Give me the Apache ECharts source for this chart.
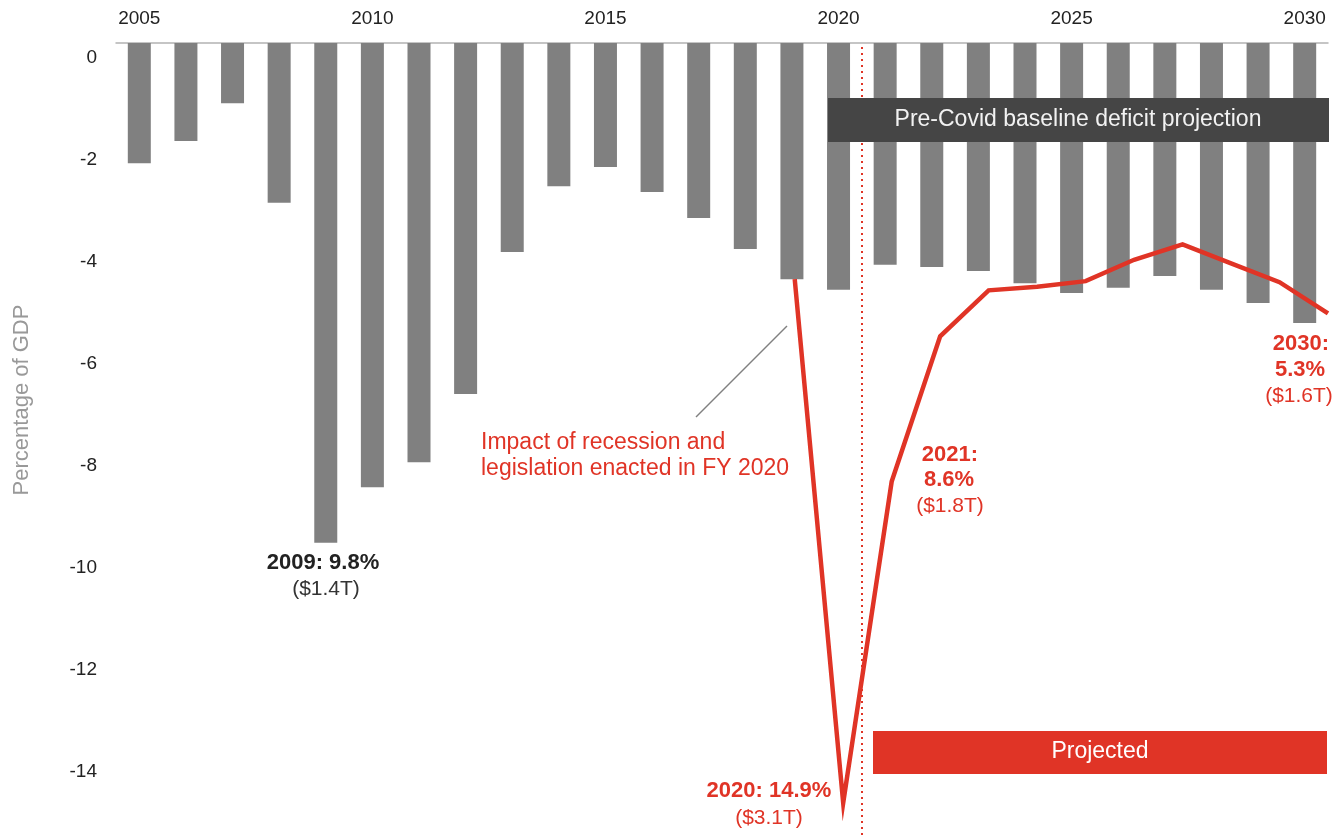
<!DOCTYPE html>
<html>
<head>
<meta charset="utf-8">
<title>Federal deficit as a percentage of GDP</title>
<script src="https://cdn.jsdelivr.net/npm/echarts@6/dist/echarts.min.js"></script>
<style>
  html, body { margin: 0; padding: 0; background: #ffffff; }
  #chart { width: 1344px; height: 836px; }
</style>
</head>
<body>
<div id="chart"></div>
<script>
// Fiscal years on the bar axis
const years = ['2005','2006','2007','2008','2009','2010','2011','2012','2013','2014','2015','2016','2017',
               '2018','2019','2020','2021','2022','2023','2024','2025','2026','2027','2028','2029','2030'];

// Deficit (% of GDP): actuals through 2019, pre-Covid baseline projection after
const baselineDeficit = [-2.36, -1.92, -1.18, -3.13, -9.8, -8.71, -8.22, -6.88, -4.1, -2.81, -2.43, -2.92, -3.43,
                         -4.04, -4.63, -4.84, -4.35, -4.39, -4.47, -4.71, -4.9, -4.8, -4.57, -4.84, -5.1, -5.49];

// Updated path after the recession and FY 2020 legislation
const updatedYears = [2019, 2020, 2021, 2022, 2023, 2024, 2025, 2026, 2027, 2028, 2029, 2030];
const updatedDeficit = [-4.63, -14.9, -8.6, -5.75, -4.85, -4.78, -4.67, -4.25, -3.95, -4.32, -4.69, -5.3];

// Start of the projection period
const projectionStart = 2020.39;

const RED = '#e03426';
const FONT = '"Liberation Sans", Arial, sans-serif';

const chart = echarts.init(document.getElementById('chart'), null, { renderer: 'canvas' });

function txt(x, y, text, opts, extra) {
  return Object.assign({
    type: 'text', x: x, y: y, silent: true,
    style: Object.assign({
      text: text, fill: '#222', font: '23px ' + FONT,
      align: 'center', verticalAlign: 'middle'
    }, opts || {})
  }, extra || {});
}

chart.setOption({
  animation: false,
  backgroundColor: '#ffffff',
  grid: { left: 116, right: 16, top: 43, bottom: -23, containLabel: false, outerBoundsMode: 'none' },
  xAxis: [
    {
      type: 'category', data: years, position: 'top', boundaryGap: true,
      axisLine: { show: true, lineStyle: { color: '#b3b3b3', width: 1.5 } },
      axisTick: { show: false },
      axisLabel: { interval: 4, fontSize: 19, color: '#222', margin: 15, fontFamily: FONT },
      splitLine: { show: false }
    },
    {
      type: 'value', min: 2005, max: 2030, show: false
    }
  ],
  yAxis: {
    type: 'value', min: -16, max: 0, interval: 2,
    axisLine: { show: false }, axisTick: { show: false }, splitLine: { show: false },
    axisLabel: { fontSize: 19, color: '#222', margin: 19, fontFamily: FONT,
                 verticalAlign: 'top', lineHeight: 30 }
  },
  series: [
    {
      type: 'bar', xAxisIndex: 0, data: baselineDeficit, barWidth: 23,
      itemStyle: { color: '#808080' }, silent: true, z: 2
    },
    {
      type: 'line', xAxisIndex: 1, z: 4,
      data: updatedYears.map((y, i) => [y, updatedDeficit[i]]),
      symbol: 'none', silent: true,
      lineStyle: { color: RED, width: 4.5, join: 'miter', miterLimit: 20, cap: 'butt' },
      markLine: {
        silent: true, symbol: 'none', label: { show: false },
        lineStyle: { color: RED, width: 2, type: [2, 4] },
        data: [{ xAxis: projectionStart }]
      }
    }
  ],
  graphic: [
    // axis title
    txt(22, 400, 'Percentage of GDP', { fill: '#999', font: '22px ' + FONT }, { rotation: Math.PI / 2 }),
    // boxes
    { type: 'rect', shape: { x: 828, y: 98, width: 501, height: 44 }, style: { fill: '#454545' }, z: 10, silent: true },
    txt(1078, 120, 'Pre-Covid baseline deficit projection', { fill: '#f2f2f2' }, { z: 11 }),
    { type: 'rect', shape: { x: 873, y: 731, width: 454, height: 43 }, style: { fill: RED }, z: 10, silent: true },
    txt(1100, 752, 'Projected', { fill: '#ffffff' }, { z: 11 }),
    // leader line to the updated path
    { type: 'line', shape: { x1: 696, y1: 417, x2: 787, y2: 326 }, style: { stroke: '#808080', lineWidth: 1.5 }, silent: true },
    txt(481, 443, 'Impact of recession and', { fill: RED, align: 'left' }),
    txt(481, 469, 'legislation enacted in FY 2020', { fill: RED, align: 'left' }),
    // value call-outs
    txt(323, 563, '2009: 9.8%', { font: 'bold 22px ' + FONT, fill: '#222' }),
    txt(326, 589, '($1.4T)', { font: '21px ' + FONT, fill: '#333' }),
    txt(769, 791, '2020: 14.9%', { font: 'bold 22px ' + FONT, fill: RED }),
    txt(769, 818, '($3.1T)', { font: '21px ' + FONT, fill: RED }),
    txt(950, 455, '2021:', { font: 'bold 22px ' + FONT, fill: RED }),
    txt(949, 480, '8.6%', { font: 'bold 22px ' + FONT, fill: RED }),
    txt(950, 506, '($1.8T)', { font: '21px ' + FONT, fill: RED }),
    txt(1301, 344, '2030:', { font: 'bold 22px ' + FONT, fill: RED }),
    txt(1300, 370, '5.3%', { font: 'bold 22px ' + FONT, fill: RED }),
    txt(1299, 396, '($1.6T)', { font: '21px ' + FONT, fill: RED })
  ]
});
</script>
</body>
</html>
